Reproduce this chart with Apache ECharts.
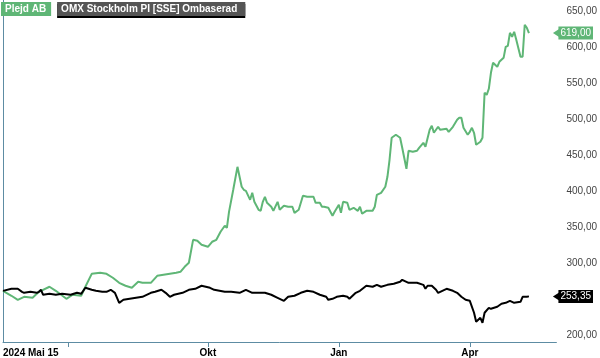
<!DOCTYPE html>
<html>
<head>
<meta charset="utf-8">
<script src="https://cdn.jsdelivr.net/npm/echarts@6/dist/echarts.min.js"></script>
<style>
html,body{margin:0;padding:0;background:#fff;}
#chart{width:600px;height:358px;}
</style>
</head>
<body>
<div id="chart"></div>
<script>
// Trading-day calendar (Stockholm), 2024-05-15 .. 2025-05-14
const startDate = '2024-05-15';
const endDate = '2025-05-14';
const holidays = ['2024-06-06','2024-06-21','2024-12-24','2024-12-25','2024-12-26','2024-12-31',
                  '2025-01-01','2025-01-06','2025-04-18','2025-04-21','2025-05-01'];

// Axis marks
const tickDates = ['2024-07-01','2024-10-01','2025-01-02','2025-04-01'];
const labelDates = ['2024-05-15','2024-10-01','2025-01-02','2025-04-01'];
const labelTexts = ['2024 Mai 15','Okt','Jan','Apr'];
const yLabels = [200, 300, 350, 400, 450, 500, 550, 600, 650];

// Series names
const seriesNames = ['Plejd AB', 'OMX Stockholm PI [SSE] Ombaserad'];

// Plejd AB: trading-day index and close (SEK)
const plejdDay = [0,4,7,10,14,17,22,25,30,33,37,39,42,46,49,52,55,58,61,64,66,70,73,76,79,82,84,86,88,90,92,94,97,99,101,103,105,106,107,109,111,113,114,115,117,118,119,121,122,123,124,125,127,128,130,131,133,135,137,138,140,142,144,147,148,150,151,152,154,156,157,159,160,161,163,164,166,168,169,170,172,175,176,177,179,181,182,183,184,186,188,189,191,192,194,196,197,199,200,202,203,204,206,207,210,211,213,215,216,217,218,220,221,222,223,224,226,227,228,229,230,231,232,234,235,237,238,239,240,241,242,243,245,246,247,248,249];
const plejdVal = [261,254.2,248.6,252.8,251.4,259.7,266.7,261.1,250,255.6,254.2,266.7,284.7,286.1,284.7,279.2,272.2,268.1,265.3,273.6,272.2,272.2,281.9,283.3,284.7,286.1,287.5,294.4,300,331.9,330.6,325,322.2,329.2,331.9,343.1,351.4,348.6,370.8,401.4,433.3,405.6,401.4,400,387.5,397.2,384.7,373.6,372.2,384.7,391.7,383.3,377.8,372.2,384.7,373.6,379.2,377.8,377.8,369.4,373.6,393.1,391.7,391.7,383.3,383.3,377.8,377.8,376.4,365.3,370.8,380.6,369.4,384.7,383.3,373.6,376.4,372.2,377.8,368.1,372.2,372.2,377.8,394.4,397.2,405.6,419.4,443.1,473.6,477.8,473.6,459.7,430.6,455.6,454.2,455.6,459.7,466.7,461.1,484.7,490.3,480.6,488.9,484.7,486.1,481.9,488.9,498.6,501.4,501.4,487.5,477.8,481.9,487.5,480.6,463.9,468.1,473.6,536.1,533.3,541.7,563.9,577.8,572.2,579.2,584.7,600,601.4,619.4,613.9,620.8,609.7,586.1,586.1,630.6,626.4,619];

// OMX Stockholm PI rebased to Plejd's start
const omxDay = [0,4,7,9,10,13,16,17,18,19,22,25,28,32,35,37,39,42,44,47,49,51,53,55,57,60,63,66,70,72,75,77,79,81,85,88,91,94,98,100,105,108,112,115,118,121,124,127,130,133,135,138,141,144,147,150,153,154,156,158,161,163,164,167,169,172,175,177,179,182,185,188,189,192,194,196,199,200,201,203,205,206,208,210,213,215,217,219,221,223,224,226,227,228,230,231,234,236,238,240,242,245,246,248,249];
const omxVal = [261,263.9,263.9,259.7,258.3,259.7,258.3,259.7,262.5,255.6,256.9,255.6,256.9,255.6,258.3,256.9,265.3,262.5,261.1,259.7,259.7,262.5,258.3,244.4,248.6,250,251.4,252.8,258.3,259.7,262.5,258.3,252.8,255.6,258.3,262.5,263.9,268.1,265.3,262.5,259.7,259.7,258.3,262.5,258.3,258.3,258.3,255.6,251.4,247.2,252.8,254.2,258.3,261.1,259.7,255.6,252.8,248.6,250,252.8,254.2,252.8,250,258.3,261.1,268.1,266.7,269.4,266.7,269.4,270.8,273.6,276.4,272.2,272.2,272.2,269.4,263.9,268.1,268.1,262.5,258.3,261.1,263.9,261.1,258.3,252.8,248.6,247.2,230.6,218.1,223.6,216.7,230.6,237.5,236.1,238.9,243.1,244.4,247.2,244.4,245.8,252.8,252.8,253.35];

// ---- build ----
const tradingDays = [];
(function(){
  const d = new Date(startDate + 'T00:00:00Z');
  const e = new Date(endDate + 'T00:00:00Z');
  while (d <= e) {
    const s = d.toISOString().slice(0,10);
    const w = d.getUTCDay();
    if (w !== 0 && w !== 6 && holidays.indexOf(s) < 0) tradingDays.push(s);
    d.setUTCDate(d.getUTCDate() + 1);
  }
})();
const tickIdx = tickDates.map(s => tradingDays.indexOf(s));
const labelIdx = labelDates.map(s => tradingDays.indexOf(s));
const labelMap = {};
labelIdx.forEach((v, k) => { labelMap[v] = labelTexts[k]; });

const fmt = v => v.toFixed(2).replace('.', ',');
const GREEN = '#5fb676';
const AXIS = '#5d8ca3';

function tag(value, bg) {
  return {
    silent: true,
    symbol: ['none', 'path://M0,0L10,0L5,10Z'],
    symbolSize: [9, 7],
    lineStyle: { color: bg, width: 0, opacity: 1 },
    emphasis: { disabled: true },
    label: {
      show: true,
      position: 'end', distance: 2, formatter: fmt(value),
      color: '#fff', backgroundColor: bg, fontSize: 10,
      fontFamily: 'Liberation Sans, Arial, sans-serif',
      padding: [1, 2, 1, 2], lineHeight: 11
    },
    data: [{ yAxis: value }]
  };
}

const chart = echarts.init(document.getElementById('chart'), null, { renderer: 'canvas' });
chart.setOption({
  animation: false,
  backgroundColor: '#fff',
  grid: { left: -2, right: 41, top: 0, bottom: 16, containLabel: false },
  legend: {
    left: -4, top: 2, padding: 0, itemGap: 1,
    itemWidth: 0, itemHeight: 0, icon: 'rect',
    selectedMode: false,
    textStyle: { fontSize: 10, fontWeight: 'bold', color: '#fff',
                 fontFamily: 'Liberation Sans, Arial, sans-serif' },
    data: [
      { name: seriesNames[0], textStyle: { backgroundColor: GREEN, padding: [2, 5, 2, 4], lineHeight: 10 } },
      { name: seriesNames[1], textStyle: { backgroundColor: '#555555', padding: [2, 8, 2, 4], lineHeight: 10,
        shadowColor: '#000', shadowOffsetY: 2, shadowBlur: 0 } }
    ]
  },
  xAxis: {
    type: 'value', min: 0, max: 262,
    splitLine: { show: false },
    axisLine: { show: true, lineStyle: { color: AXIS, width: 1 } },
    axisTick: { show: true, length: 5, customValues: tickIdx, lineStyle: { color: AXIS } },
    axisLabel: {
      customValues: labelIdx, alignMinLabel: 'left',
      formatter: v => labelMap[v] || '',
      color: '#000', fontSize: 10, fontWeight: 'bold', margin: 6,
      fontFamily: 'Liberation Sans, Arial, sans-serif'
    }
  },
  yAxis: {
    type: 'value', position: 'right', min: 190, max: 665,
    splitLine: { show: false },
    axisLine: { show: true, lineStyle: { color: AXIS, width: 1 } },
    axisTick: { show: false },
    axisLabel: {
      customValues: yLabels, formatter: v => fmt(v),
      color: '#444', fontSize: 10, margin: 10,
      fontFamily: 'Liberation Sans, Arial, sans-serif'
    }
  },
  series: [
    {
      name: seriesNames[0], type: 'line', symbol: 'none',
      lineStyle: { color: GREEN, width: 2 }, itemStyle: { color: GREEN },
      data: plejdDay.map((d, k) => [d, plejdVal[k]]),
      markLine: tag(plejdVal[plejdVal.length - 1], GREEN)
    },
    {
      name: seriesNames[1], type: 'line', symbol: 'none',
      lineStyle: { color: '#000', width: 2 }, itemStyle: { color: '#000' },
      data: omxDay.map((d, k) => [d, omxVal[k]]),
      markLine: tag(omxVal[omxVal.length - 1], '#000')
    }
  ]
});
</script>
</body>
</html>
